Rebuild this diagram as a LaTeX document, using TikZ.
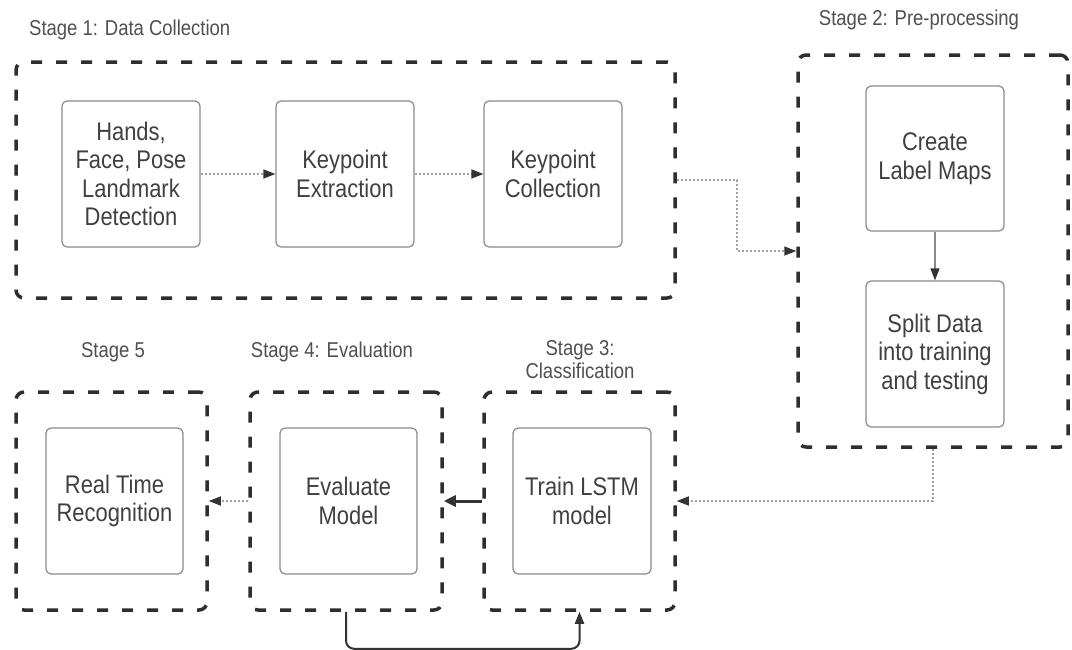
\documentclass[tikz,border=0pt]{standalone}
\usepackage{fontspec}
\setmainfont[FakeStretch=0.86]{Liberation Sans}
\usetikzlibrary{arrows.meta}
\definecolor{outerc}{HTML}{2E2E2E}
\definecolor{innerc}{HTML}{8A8A8A}
\definecolor{boxtext}{HTML}{404040}
\definecolor{labtext}{HTML}{505050}
\definecolor{dotc}{HTML}{A0A0A0}
\definecolor{tipc}{HTML}{333333}
\tikzset{
  stagebox/.style={draw=outerc, line width=3.5pt, dash pattern=on 11pt off 14pt, rounded corners=8pt, inner sep=0pt},
  procbox/.style={draw=innerc, line width=1.2pt, rounded corners=5pt, fill=white, inner sep=0pt,
     align=center, text=boxtext, font=\fontsize{25.5}{28.5}\selectfont},
  stagelabel/.style={text=labtext, font=\fontsize{21.5}{23}\selectfont, inner sep=0pt, align=center},
  dotconn/.style={draw=dotc, line width=1.5pt, dash pattern=on 2pt off 2pt,
     -{Triangle[length=12pt, width=9pt, color=tipc]}},
  solidconn/.style={draw=innerc, line width=1.2pt, -{Triangle[length=12pt, width=9pt, color=tipc]}},
  thickconn/.style={draw=tipc, line width=3pt, -{Triangle[length=12pt, width=11pt, color=tipc]}},
  loopconn/.style={draw=tipc, line width=2pt, rounded corners=8pt, -{Triangle[length=12pt, width=9pt, color=tipc]}}
}
\begin{document}
\begin{tikzpicture}[x=1pt, y=-1pt]
\useasboundingbox[fill=white] (0,0) rectangle (1072,649);

% stage containers
\node[stagebox, minimum width=659pt, minimum height=236pt] (s1) at (345.5,180) {};
\node[stagebox, minimum width=270pt, minimum height=392pt] (s2) at (933,251) {};
\node[stagebox, minimum width=191pt, minimum height=218pt] (s5) at (111.5,501) {};
\node[stagebox, minimum width=192pt, minimum height=218pt] (s4) at (346,501) {};
\node[stagebox, minimum width=191pt, minimum height=218pt] (s3) at (579.5,501) {};

% labels
\node[stagelabel, anchor=west] (l1) at (29,30) {Stage 1: Data Collection};
\node[stagelabel] (l2) at (919,20) {Stage 2: Pre-processing};
\node[stagelabel] (l5) at (113,352) {Stage 5};
\node[stagelabel] (l4) at (332,352) {Stage 4: Evaluation};
\node[stagelabel] (l3) at (580,360) {Stage 3:\\Classification};

% process boxes
\node[procbox, minimum width=138pt, minimum height=146pt] (b1) at (131,174) {Hands,\\Face, Pose\\Landmark\\Detection};
\node[procbox, minimum width=138pt, minimum height=146pt] (b2) at (345,174) {Keypoint\\Extraction};
\node[procbox, minimum width=138pt, minimum height=146pt] (b3) at (553,174) {Keypoint\\Collection};
\node[procbox, minimum width=138pt, minimum height=145pt] (c1) at (935,158.5) {Create\\Label Maps};
\node[procbox, minimum width=138pt, minimum height=146pt] (c2) at (935,354) {Split Data\\into training\\and testing};
\node[procbox, minimum width=137pt, minimum height=146pt] (r5) at (114.5,501) {Real Time\\Recognition};
\node[procbox, minimum width=137pt, minimum height=146pt] (r4) at (348.5,501) {Evaluate\\Model};
\node[procbox, minimum width=138pt, minimum height=146pt] (r3) at (582,501) {Train LSTM\\model};

% connectors
\draw[dotconn] (b1.east) -- (b2.west);
\draw[dotconn] (b2.east) -- (b3.west);
\coordinate (k1) at (737,180);
\draw[dotconn] (s1.east) -- (k1) |- (s2.west);
\draw[solidconn] (c1.south) -- (c2.north);
\draw[dotconn] (s2.south) |- (s3.east);
\draw[thickconn] (s3.west) -- (s4.east);
\draw[dotconn] (s4.west) -- (s5.east);
\draw[loopconn] (s4.south) -- ++(0,37) -| (s3.south);
\end{tikzpicture}
\end{document}
